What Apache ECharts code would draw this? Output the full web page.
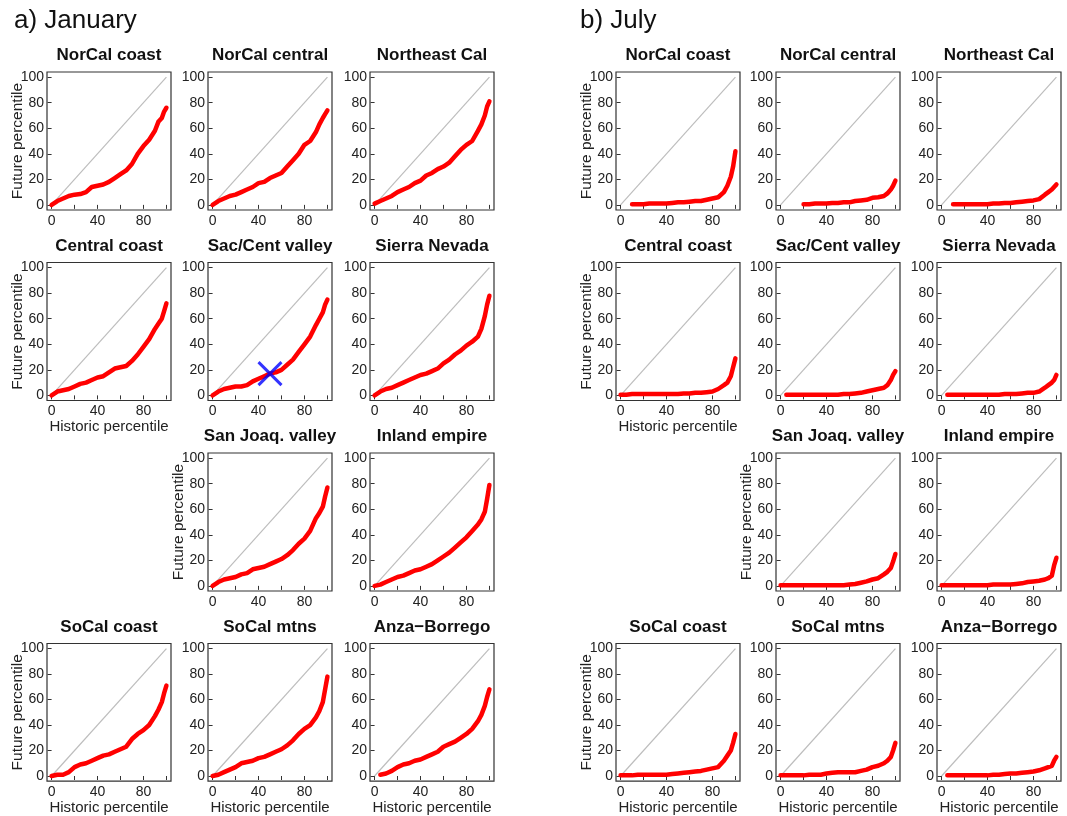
<!DOCTYPE html>
<html>
  <head>
    <meta charset="utf-8" />
    <title>January / July percentiles</title>
    <script src="https://cdn.jsdelivr.net/npm/echarts@6/dist/echarts.min.js"></script>
  </head>
  <body style="margin:0">
    <div id="main" style="width:1067px;height:816px;"></div>
    <script type="text/javascript">
// historic percentile grid shared by every curve
var histPct = [0, 5, 10, 15, 20, 25, 30, 35, 40, 45, 50, 55, 60, 65, 70, 75, 80, 85, 90, 93, 96, 98, 100];

var regions = ['NorCal coast', 'NorCal central', 'Northeast Cal', 'Central coast', 'Sac/Cent valley',
  'Sierra Nevada', 'San Joaq. valley', 'Inland empire', 'SoCal coast', 'SoCal mtns', 'Anza\u2212Borrego'];

// a) January - future percentile
var janNorCalCoast  = [0, 3, 5, 7, 8, 8.5, 10, 14, 15, 16, 18, 21, 24, 27, 32, 40, 46, 51, 58, 65, 68, 73, 76];
var janNorCalCent   = [0, 3, 5, 7, 8, 10, 12, 14, 17, 18, 21, 23, 25, 30, 35, 40, 47, 50, 57, 63, 68, 71, 74];
var janNortheast    = [1, 3, 5, 7, 10, 12, 14, 17, 19, 23, 25, 28, 30, 33, 38, 43, 47, 50, 58, 63, 70, 77, 81];
var janCentCoast    = [0, 3, 4, 5, 7, 9, 10, 12, 14, 15, 18, 21, 22, 23, 27, 32, 38, 44, 52, 56, 60, 66, 72];
var janSacCent      = [0, 3, 5, 6, 7, 7, 8, 11, 13, 15, 17, 18, 20, 24, 28, 34, 40, 46, 55, 60, 65, 71, 75];
var janSierra       = [0, 3, 5, 6, 8, 10, 12, 14, 16, 17, 19, 21, 25, 28, 32, 35, 39, 42, 46, 52, 62, 71, 78];
var janSanJoaq      = [0, 3, 5, 6, 7, 9, 10, 13, 14, 15, 17, 19, 21, 24, 28, 33, 37, 43, 53, 57, 62, 70, 77];
var janInland       = [0, 1, 3, 5, 7, 8, 10, 12, 13, 15, 17, 20, 23, 26, 30, 34, 38, 43, 48, 52, 58, 68, 79];
var janSoCalCoast   = [0, 1, 1, 3, 7, 9, 10, 12, 14, 16, 17, 19, 21, 23, 29, 33, 36, 40, 47, 52, 58, 65, 71];
var janSoCalMtns    = [0, 1, 3, 5, 7, 10, 11, 12, 14, 15, 17, 19, 21, 24, 28, 33, 37, 40, 46, 51, 58, 68, 78];
var janAnza         = [null, 1, 2, 4, 7, 9, 10, 12, 13, 15, 17, 19, 23, 25, 27, 30, 33, 37, 43, 48, 55, 62, 68];
var janSacMarker    = [[50, 17]];

// b) July - future percentile
var julNorCalCoast  = [null, null, 0.5, 0.5, 0.5, 1, 1, 1, 1, 1.5, 2, 2, 2.5, 3, 3, 4, 5, 6, 10, 15, 22, 30, 42];
var julNorCalCent   = [null, null, null, null, 0.5, 0.5, 1, 1, 1, 1.5, 1.5, 2, 2, 3, 3.5, 4, 5.5, 6, 7, 9, 12, 15, 19];
var julNortheast    = [null, null, 0.5, 0.5, 0.5, 0.5, 0.5, 0.5, 0.5, 1, 1, 1.5, 1.5, 2, 2.5, 3, 3.5, 4.5, 8, 10, 12, 14, 16];
var julCentCoast    = [0.5, 0.5, 1, 1, 1, 1, 1, 1, 1, 1, 1, 1.5, 1.5, 2, 2, 2.5, 3, 5, 8, 10, 15, 22, 29];
var julSacCent      = [null, 0.5, 0.5, 0.5, 0.5, 0.5, 0.5, 0.5, 0.5, 0.5, 0.5, 1, 1, 1.5, 2, 3, 4, 5, 6, 8, 12, 16, 19];
var julSierra       = [null, 0.5, 0.5, 0.5, 0.5, 0.5, 0.5, 0.5, 0.5, 0.5, 0.5, 1, 1, 1, 1.5, 2, 2, 3, 6, 8, 10, 12, 16];
var julSanJoaq      = [0.5, 0.5, 0.5, 0.5, 0.5, 0.5, 0.5, 0.5, 0.5, 0.5, 0.5, 0.5, 1, 1.5, 2.5, 3.5, 5, 6, 9, 11, 14, 19, 25];
var julInland       = [0.5, 0.5, 0.5, 0.5, 0.5, 0.5, 0.5, 0.5, 0.5, 1, 1, 1, 1, 1.5, 2, 3, 3.5, 4, 5, 6, 8, 16, 22];
var julSoCalCoast   = [0.5, 0.5, 0.5, 1, 1, 1, 1, 1, 1, 1.5, 2, 2.5, 3, 3.5, 4, 5, 6, 7, 12, 16, 20, 26, 33];
var julSoCalMtns    = [0.5, 0.5, 0.5, 0.5, 0.5, 1, 1, 1, 2, 2.5, 3, 3, 3, 3, 4, 5, 7, 8, 10, 12, 15, 20, 26];
var julAnza         = [null, 0.5, 0.5, 0.5, 0.5, 0.5, 0.5, 0.5, 0.5, 1, 1, 1.5, 2, 2, 2.5, 3, 3.5, 4.5, 6, 7, 8, 12, 15];

var identityLine = [[0, 0], [100, 100]];
var tickValues = [0, 20, 40, 60, 80, 100];
var xLabelValues = [0, 40, 80];

var janSeries = [janNorCalCoast, janNorCalCent, janNortheast, janCentCoast, janSacCent, janSierra,
  janSanJoaq, janInland, janSoCalCoast, janSoCalMtns, janAnza];
var julSeries = [julNorCalCoast, julNorCalCent, julNortheast, julCentCoast, julSacCent, julSierra,
  julSanJoaq, julInland, julSoCalCoast, julSoCalMtns, julAnza];

// layout: row/col for each region (row 3 col 0 left empty)
var slots = [[0, 0], [0, 1], [0, 2], [1, 0], [1, 1], [1, 2], [2, 1], [2, 2], [3, 0], [3, 1], [3, 2]];
var colLeft = [[47, 208, 370], [616, 776, 937]];
var rowTop = [72, 262.5, 453, 643.5];
var boxW = 124, boxH = 138;
var FONT = 'Liberation Sans';

var grids = [], xAxes = [], yAxes = [], series = [], graphics = [];

graphics.push({ type: 'text', x: 14, y: 21, style: { text: 'a) January', font: '26px ' + FONT, fill: '#111', verticalAlign: 'middle' } });
graphics.push({ type: 'text', x: 580, y: 21, style: { text: 'b) July', font: '26px ' + FONT, fill: '#111', verticalAlign: 'middle' } });

[janSeries, julSeries].forEach(function (set, side) {
  set.forEach(function (ys, i) {
    var row = slots[i][0], col = slots[i][1];
    var left = colLeft[side][col], top = rowTop[row];
    var g = grids.length;
    var showYName = col === 0 || (row === 2 && col === 1);
    var showXName = (row === 1 && col === 0) || row === 3;

    grids.push({
      left: left, top: top, width: boxW, height: boxH,
      show: true, borderColor: '#333', borderWidth: 1.2, backgroundColor: '#fff'
    });
    xAxes.push({
      type: 'value', gridIndex: g, min: -4, max: 104,
      axisLine: { show: false }, splitLine: { show: false },
      axisTick: { show: true, length: 4, customValues: tickValues, lineStyle: { color: '#333' } },
      axisLabel: { customValues: xLabelValues, margin: 4, fontSize: 14, color: '#222', fontFamily: FONT },
      name: showXName ? 'Historic percentile' : '', nameLocation: 'middle', nameGap: 18,
      nameTextStyle: { fontSize: 15, color: '#222', fontFamily: FONT }
    });
    yAxes.push({
      type: 'value', gridIndex: g, min: -4, max: 104,
      axisLine: { show: false }, splitLine: { show: false },
      axisTick: { show: true, length: 4, customValues: tickValues, lineStyle: { color: '#333' } },
      axisLabel: { customValues: tickValues, margin: 3, fontSize: 14, color: '#222', fontFamily: FONT },
      name: showYName ? 'Future percentile' : '', nameLocation: 'middle', nameGap: 21,
      nameMoveOverlap: false,
      nameTextStyle: { fontSize: 15.5, color: '#222', fontFamily: FONT }
    });
    series.push({
      type: 'line', xAxisIndex: g, yAxisIndex: g, data: identityLine,
      showSymbol: false, silent: true, z: 2,
      lineStyle: { color: '#bdbdbd', width: 1.2 }
    });
    var pts = [];
    histPct.forEach(function (x, k) { if (ys[k] !== null) pts.push([x, ys[k]]); });
    series.push({
      type: 'line', xAxisIndex: g, yAxisIndex: g, data: pts,
      showSymbol: false, z: 3,
      lineStyle: { color: '#ff0000', width: 4.5, cap: 'round', join: 'round' }
    });
    if (side === 0 && i === 4) {
      series.push({
        type: 'scatter', xAxisIndex: g, yAxisIndex: g, data: janSacMarker, z: 4,
        symbol: 'path://M0,0L20,20M20,0L0,20', symbolSize: 23,
        itemStyle: { color: 'transparent', borderColor: '#0000ff', borderWidth: 3 }
      });
    }
    graphics.push({
      type: 'text', x: left + boxW / 2, y: top - 16.5,
      style: { text: regions[i], font: 'bold 17px ' + FONT, fill: '#111', align: 'center', verticalAlign: 'middle' }
    });
  });
});

var myChart = echarts.init(document.getElementById('main'));
myChart.setOption({
  animation: false,
  backgroundColor: '#fff',
  grid: grids,
  xAxis: xAxes,
  yAxis: yAxes,
  series: series,
  graphic: graphics
});
    </script>
  </body>
</html>
